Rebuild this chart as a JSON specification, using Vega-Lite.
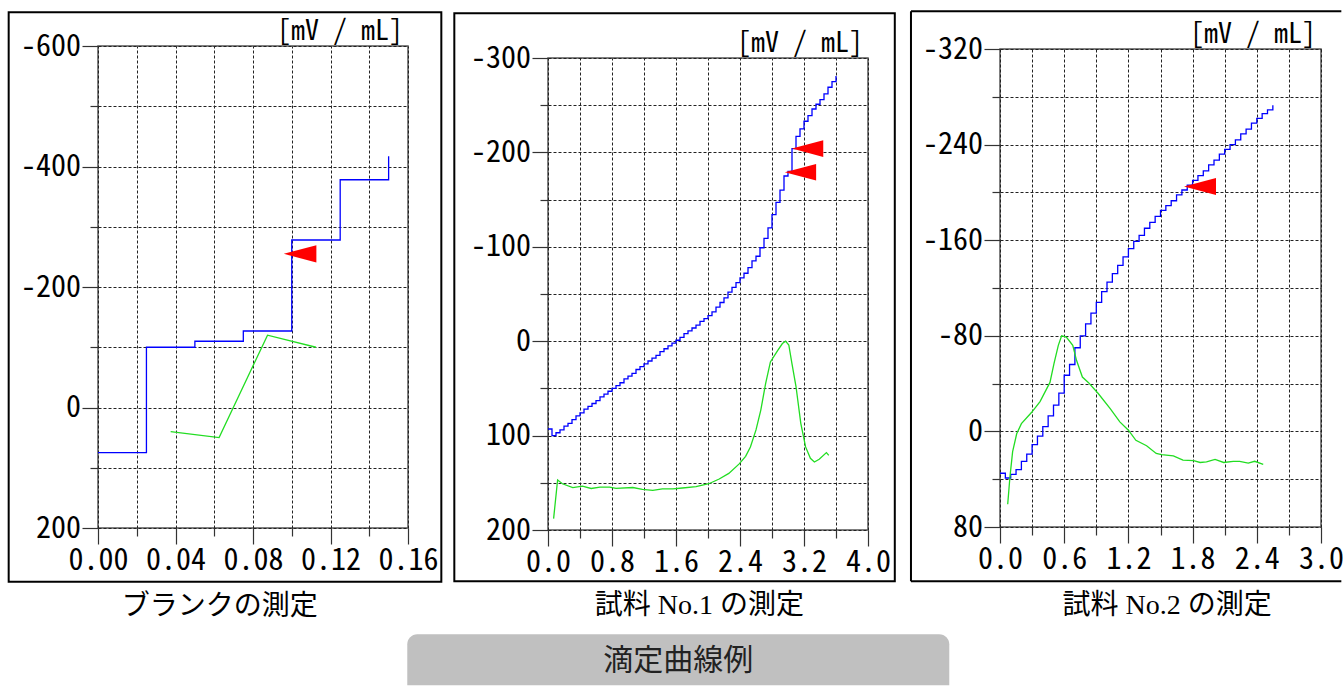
{
  "$schema": "https://vega.github.io/schema/vega-lite/v6.json",
  "background": "white",
  "padding": {"left": 6, "top": 9, "right": 0, "bottom": 0},
  "autosize": {"type": "pad"},
  "spacing": 0,
  "bounds": "flush",
  "config": {
    "view": {"stroke": "#555", "strokeWidth": 1.5},
    "axis": {
      "labelFont": "Noto Sans Mono CJK JP, DejaVu Sans Mono, monospace",
      "labelFontSize": 30,
      "labelColor": "#000",
      "tickColor": "#333",
      "tickWidth": 1.2,
      "tickSize": 16,
      "gridColor": "#222",
      "gridDash": [3, 2],
      "gridWidth": 1,
      "grid": true,
      "domain": false,
      "labelPadding": 1.5,
      "labelFlush": false,
      "labelOverlap": false,
      "labelBound": false
    }
  },
  "hconcat": [
    {
      "width": 310,
      "height": 482,
      "encoding": {
        "x": {"field": "x", "type": "quantitative", "title": null,
          "scale": {"domain": [0, 0.16], "nice": false, "zero": false},
          "axis": {
            "values": [0, 0.02, 0.04, 0.06, 0.08, 0.1, 0.12, 0.14, 0.16],
            "labelExpr": "abs(round(datum.value*100)) % 4 == 0 ? format(datum.value, '.2f') : ''",
            "tickDash": {"condition": {"test": "abs(round(datum.value*100)) % 4 != 0", "value": [8, 40]}, "value": [16, 0]}
          }
        },
        "y": {"field": "y", "type": "quantitative", "title": null,
          "scale": {"domain": [-600, 200], "nice": false, "zero": false, "reverse": true},
          "axis": {
            "values": [-600, -500, -400, -300, -200, -100, 0, 100, 200],
            "labelExpr": "abs(datum.value) % 200 == 0 ? (datum.value < 0 ? '-' : '') + abs(datum.value) : ''",
            "tickDash": {"condition": {"test": "abs(datum.value) % 200 != 0", "value": [8, 40]}, "value": [16, 0]}
          }
        }
      },
      "layer": [
        {
          "data": {"values": [{"x": -0.0461, "x2": 0.1772, "y": -655.9, "y2": 289.1}]},
          "mark": {"type": "rect", "filled": false, "color": "#000", "strokeWidth": 2},
          "encoding": {"x2": {"field": "x2"}, "y2": {"field": "y2"}}
        },
        {
          "data": {"values": [
            {"x": 0, "y": 75}, {"x": 0.025, "y": -100}, {"x": 0.05, "y": -110}, {"x": 0.075, "y": -127},
            {"x": 0.1, "y": -278}, {"x": 0.125, "y": -378}, {"x": 0.15, "y": -417}
          ]},
          "mark": {"type": "line", "interpolate": "step-after", "color": "#0000ff", "strokeWidth": 1.3}
        },
        {
          "data": {"values": [
            {"x": 0.0375, "y": 40}, {"x": 0.0625, "y": 50}, {"x": 0.0875, "y": -120}, {"x": 0.1125, "y": -100}
          ]},
          "mark": {"type": "line", "color": "#22dd22", "strokeWidth": 1.3}
        },
        {
          "data": {"values": [{"x": 0.1043, "y": -255}]},
          "mark": {"type": "point", "shape": "M-1,0L1,-0.53L1,0.53Z", "size": 1060, "filled": true, "color": "#ff0000", "opacity": 1, "strokeWidth": 0}
        },
        {
          "data": {"values": [{"x": 0.16, "y": -600, "label": "[mV / mL]"}]},
          "mark": {"type": "text", "align": "right", "baseline": "bottom", "dx": -5, "dy": -0.5, "font": "Noto Sans Mono CJK JP, DejaVu Sans Mono, monospace", "fontSize": 28, "color": "#000"},
          "encoding": {"text": {"field": "label"}}
        },
        {
          "data": {"values": [{"x": 0.0628, "y": 330.6, "label": "ブランクの測定"}]},
          "mark": {"type": "text", "align": "center", "baseline": "middle", "font": "Liberation Serif, Noto Sans CJK JP", "fontSize": 28, "color": "#000"},
          "encoding": {"text": {"field": "label"}}
        }
      ]
    },
    {
      "width": 140, "height": 1,
      "view": {"stroke": null},
      "data": {"values": []},
      "mark": "rule",
      "encoding": {}
    },
    {
      "spacing": 0,
      "bounds": "flush",
      "vconcat": [
        {
          "width": 320, "height": 12,
          "view": {"stroke": null},
          "data": {"values": []},
          "mark": "rule",
          "encoding": {}
        },
        {
          "width": 320,
          "height": 472,
          "encoding": {
            "x": {"field": "x", "type": "quantitative", "title": null,
              "scale": {"domain": [0, 4], "nice": false, "zero": false},
              "axis": {
                "values": [0, 0.4, 0.8, 1.2, 1.6, 2, 2.4, 2.8, 3.2, 3.6, 4],
                "labelExpr": "abs(round(datum.value*10)) % 8 == 0 ? format(datum.value, '.1f') : ''",
                "tickDash": {"condition": {"test": "abs(round(datum.value*10)) % 8 != 0", "value": [8, 40]}, "value": [16, 0]}
              }
            },
            "y": {"field": "y", "type": "quantitative", "title": null,
              "scale": {"domain": [-300, 200], "nice": false, "zero": false, "reverse": true},
              "axis": {
                "values": [-300, -250, -200, -150, -100, -50, 0, 50, 100, 150, 200],
                "labelExpr": "abs(datum.value) % 100 == 0 ? (datum.value < 0 ? '-' : '') + abs(datum.value) : ''",
                "tickDash": {"condition": {"test": "abs(datum.value) % 100 != 0", "value": [8, 40]}, "value": [16, 0]}
              }
            }
          },
          "layer": [
            {
              "data": {"values": [{"x": -1.171, "x2": 4.335, "y": -347.4, "y2": 254.3}]},
              "mark": {"type": "rect", "filled": false, "color": "#000", "strokeWidth": 2},
              "encoding": {"x2": {"field": "x2"}, "y2": {"field": "y2"}}
            },
            {
              "data": {"values": [{"x": -1.759, "x2": 5.016, "y": 310.5, "y2": 364.5}]},
              "mark": {"type": "rect", "color": "#c0c0c0", "cornerRadiusTopLeft": 10, "cornerRadiusTopRight": 10},
              "encoding": {"x2": {"field": "x2"}, "y2": {"field": "y2"}}
            },
            {
              "data": {"values": [
                {"x": 0, "y": 93}, {"x": 0.05, "y": 100}, {"x": 0.1, "y": 97}, {"x": 0.15, "y": 94}, {"x": 0.2, "y": 90},
                {"x": 0.25, "y": 87}, {"x": 0.3, "y": 83}, {"x": 0.35, "y": 79}, {"x": 0.4, "y": 76}, {"x": 0.45, "y": 72},
                {"x": 0.5, "y": 69}, {"x": 0.55, "y": 66}, {"x": 0.6, "y": 63}, {"x": 0.65, "y": 59}, {"x": 0.7, "y": 56},
                {"x": 0.75, "y": 53}, {"x": 0.8, "y": 50}, {"x": 0.85, "y": 47}, {"x": 0.9, "y": 44}, {"x": 0.95, "y": 40},
                {"x": 1.0, "y": 37}, {"x": 1.05, "y": 34}, {"x": 1.1, "y": 30}, {"x": 1.15, "y": 27}, {"x": 1.2, "y": 24},
                {"x": 1.25, "y": 21}, {"x": 1.3, "y": 18}, {"x": 1.35, "y": 15}, {"x": 1.4, "y": 11}, {"x": 1.45, "y": 8},
                {"x": 1.5, "y": 5}, {"x": 1.55, "y": 2}, {"x": 1.6, "y": -1}, {"x": 1.65, "y": -4}, {"x": 1.7, "y": -8},
                {"x": 1.75, "y": -11}, {"x": 1.8, "y": -14}, {"x": 1.85, "y": -17}, {"x": 1.9, "y": -21}, {"x": 1.95, "y": -24},
                {"x": 2.0, "y": -27}, {"x": 2.05, "y": -31}, {"x": 2.1, "y": -36}, {"x": 2.15, "y": -41}, {"x": 2.2, "y": -46},
                {"x": 2.25, "y": -52}, {"x": 2.3, "y": -57}, {"x": 2.35, "y": -62}, {"x": 2.4, "y": -67}, {"x": 2.45, "y": -72},
                {"x": 2.5, "y": -78}, {"x": 2.55, "y": -85}, {"x": 2.6, "y": -90}, {"x": 2.65, "y": -99}, {"x": 2.7, "y": -109},
                {"x": 2.75, "y": -120}, {"x": 2.8, "y": -134}, {"x": 2.85, "y": -147}, {"x": 2.9, "y": -160}, {"x": 2.95, "y": -175},
                {"x": 3.0, "y": -180}, {"x": 3.05, "y": -204}, {"x": 3.1, "y": -217}, {"x": 3.15, "y": -225}, {"x": 3.2, "y": -233},
                {"x": 3.25, "y": -239}, {"x": 3.3, "y": -246}, {"x": 3.35, "y": -251}, {"x": 3.4, "y": -256}, {"x": 3.45, "y": -262},
                {"x": 3.5, "y": -269}, {"x": 3.55, "y": -275}, {"x": 3.6, "y": -281}
              ]},
              "mark": {"type": "line", "interpolate": "step-after", "color": "#0000ff", "strokeWidth": 1.3}
            },
            {
              "data": {"values": [
                {"x": 0.07, "y": 188}, {"x": 0.12, "y": 147}, {"x": 0.18, "y": 151}, {"x": 0.31, "y": 155}, {"x": 0.43, "y": 153.5},
                {"x": 0.54, "y": 156}, {"x": 0.65, "y": 154.5}, {"x": 0.77, "y": 154.5}, {"x": 0.85, "y": 156}, {"x": 1.06, "y": 155},
                {"x": 1.18, "y": 157}, {"x": 1.31, "y": 158}, {"x": 1.43, "y": 156.5}, {"x": 1.56, "y": 156.5}, {"x": 1.68, "y": 155.5},
                {"x": 1.85, "y": 154}, {"x": 2.01, "y": 151}, {"x": 2.14, "y": 146}, {"x": 2.26, "y": 140}, {"x": 2.39, "y": 130},
                {"x": 2.47, "y": 122}, {"x": 2.53, "y": 112}, {"x": 2.6, "y": 94}, {"x": 2.66, "y": 73}, {"x": 2.72, "y": 45},
                {"x": 2.78, "y": 22}, {"x": 2.87, "y": 10}, {"x": 2.93, "y": 2.5}, {"x": 2.97, "y": 0}, {"x": 3.01, "y": 4},
                {"x": 3.05, "y": 24}, {"x": 3.1, "y": 48}, {"x": 3.16, "y": 87}, {"x": 3.22, "y": 112}, {"x": 3.28, "y": 124},
                {"x": 3.33, "y": 128}, {"x": 3.39, "y": 125}, {"x": 3.48, "y": 118}, {"x": 3.51, "y": 121}
              ]},
              "mark": {"type": "line", "color": "#22dd22", "strokeWidth": 1.3}
            },
            {
              "data": {"values": [{"x": 3.245, "y": -204}, {"x": 3.156, "y": -179}]},
              "mark": {"type": "point", "shape": "M-1,0L1,-0.53L1,0.53Z", "size": 980, "filled": true, "color": "#ff0000", "opacity": 1, "strokeWidth": 0}
            },
            {
              "data": {"values": [{"x": 4, "y": -300, "label": "[mV / mL]"}]},
              "mark": {"type": "text", "align": "right", "baseline": "bottom", "dx": -5, "dy": -0.5, "font": "Noto Sans Mono CJK JP, DejaVu Sans Mono, monospace", "fontSize": 28, "color": "#000"},
              "encoding": {"text": {"field": "label"}}
            },
            {
              "data": {"values": [{"x": 1.891, "y": 280.8, "label": "試料 No.1 の測定"}]},
              "mark": {"type": "text", "align": "center", "baseline": "middle", "font": "Liberation Serif, Noto Sans CJK JP", "fontSize": 28, "color": "#000"},
              "encoding": {"text": {"field": "label"}}
            },
            {
              "data": {"values": [{"x": 1.629, "y": 339.1, "label": "滴定曲線例"}]},
              "mark": {"type": "text", "align": "center", "baseline": "middle", "font": "Noto Sans CJK JP", "fontSize": 30, "color": "#222"},
              "encoding": {"text": {"field": "label"}}
            }
          ]
        }
      ]
    },
    {
      "width": 452, "height": 1,
      "view": {"stroke": null},
      "data": {"values": []},
      "mark": "rule",
      "encoding": {}
    },
    {
      "spacing": 0,
      "bounds": "flush",
      "vconcat": [
        {
          "width": 321, "height": 3,
          "view": {"stroke": null},
          "data": {"values": []},
          "mark": "rule",
          "encoding": {}
        },
        {
          "width": 321,
          "height": 478,
          "encoding": {
            "x": {"field": "x", "type": "quantitative", "title": null,
              "scale": {"domain": [0, 3], "nice": false, "zero": false},
              "axis": {
                "values": [0, 0.3, 0.6, 0.9, 1.2, 1.5, 1.8, 2.1, 2.4, 2.7, 3],
                "labelExpr": "abs(round(datum.value*10)) % 6 == 0 ? format(datum.value, '.1f') : ''",
                "tickDash": {"condition": {"test": "abs(round(datum.value*10)) % 6 != 0", "value": [8, 40]}, "value": [16, 0]}
              }
            },
            "y": {"field": "y", "type": "quantitative", "title": null,
              "scale": {"domain": [-320, 80], "nice": false, "zero": false, "reverse": true},
              "axis": {
                "values": [-320, -280, -240, -200, -160, -120, -80, -40, 0, 40, 80],
                "labelExpr": "abs(datum.value) % 80 == 0 ? (datum.value < 0 ? '-' : '') + abs(datum.value) : ''",
                "tickDash": {"condition": {"test": "abs(datum.value) % 80 != 0", "value": [8, 40]}, "value": [16, 0]}
              }
            }
          },
          "layer": [
            {
              "data": {"values": [
                {"x": -0.832, "x2": 3.19, "y": -351.5, "y2": -351.5},
                {"x": -0.832, "x2": -0.832, "y": -351.5, "y2": 125.4},
                {"x": -0.832, "x2": 3.19, "y": 125.4, "y2": 125.4}
              ]},
              "mark": {"type": "rule", "color": "#000", "strokeWidth": 2},
              "encoding": {"x2": {"field": "x2"}, "y2": {"field": "y2"}}
            },
            {
              "data": {"values": [
                {"x": 0, "y": 35}, {"x": 0.05, "y": 39}, {"x": 0.1, "y": 36}, {"x": 0.15, "y": 32}, {"x": 0.2, "y": 25},
                {"x": 0.25, "y": 19}, {"x": 0.3, "y": 11}, {"x": 0.35, "y": 4}, {"x": 0.4, "y": -4}, {"x": 0.45, "y": -13},
                {"x": 0.5, "y": -22}, {"x": 0.55, "y": -32}, {"x": 0.6, "y": -47}, {"x": 0.65, "y": -56}, {"x": 0.7, "y": -70},
                {"x": 0.75, "y": -80}, {"x": 0.8, "y": -90}, {"x": 0.85, "y": -99}, {"x": 0.9, "y": -108}, {"x": 0.95, "y": -117},
                {"x": 1.0, "y": -125}, {"x": 1.05, "y": -132}, {"x": 1.1, "y": -139}, {"x": 1.15, "y": -146}, {"x": 1.2, "y": -153},
                {"x": 1.25, "y": -159}, {"x": 1.3, "y": -164}, {"x": 1.35, "y": -170}, {"x": 1.4, "y": -175}, {"x": 1.45, "y": -180},
                {"x": 1.5, "y": -185}, {"x": 1.55, "y": -189}, {"x": 1.6, "y": -193}, {"x": 1.65, "y": -198}, {"x": 1.7, "y": -202},
                {"x": 1.75, "y": -206}, {"x": 1.8, "y": -210}, {"x": 1.85, "y": -214}, {"x": 1.9, "y": -218}, {"x": 1.95, "y": -223},
                {"x": 2.0, "y": -227}, {"x": 2.05, "y": -232}, {"x": 2.1, "y": -236}, {"x": 2.15, "y": -240}, {"x": 2.2, "y": -244},
                {"x": 2.25, "y": -249}, {"x": 2.3, "y": -253}, {"x": 2.35, "y": -258}, {"x": 2.4, "y": -262}, {"x": 2.45, "y": -266},
                {"x": 2.5, "y": -269}, {"x": 2.55, "y": -273}
              ]},
              "mark": {"type": "line", "interpolate": "step-after", "color": "#0000ff", "strokeWidth": 1.3}
            },
            {
              "data": {"values": [
                {"x": 0.072, "y": 61}, {"x": 0.093, "y": 38}, {"x": 0.118, "y": 17}, {"x": 0.156, "y": 2}, {"x": 0.2, "y": -6.5},
                {"x": 0.296, "y": -16}, {"x": 0.374, "y": -25}, {"x": 0.467, "y": -41}, {"x": 0.505, "y": -57}, {"x": 0.545, "y": -72},
                {"x": 0.576, "y": -80}, {"x": 0.62, "y": -79}, {"x": 0.68, "y": -72}, {"x": 0.715, "y": -59.5}, {"x": 0.77, "y": -45.5},
                {"x": 0.825, "y": -41}, {"x": 0.92, "y": -31.5}, {"x": 1.03, "y": -19}, {"x": 1.12, "y": -8}, {"x": 1.2, "y": -1},
                {"x": 1.27, "y": 7.5}, {"x": 1.37, "y": 12}, {"x": 1.46, "y": 18.5}, {"x": 1.51, "y": 19.5}, {"x": 1.62, "y": 20.5},
                {"x": 1.71, "y": 24}, {"x": 1.81, "y": 24.5}, {"x": 1.87, "y": 26}, {"x": 1.93, "y": 25.5}, {"x": 2.01, "y": 23.5},
                {"x": 2.09, "y": 26}, {"x": 2.18, "y": 25}, {"x": 2.24, "y": 25}, {"x": 2.32, "y": 26.5}, {"x": 2.38, "y": 25},
                {"x": 2.46, "y": 27.5}
              ]},
              "mark": {"type": "line", "color": "#22dd22", "strokeWidth": 1.3}
            },
            {
              "data": {"values": [{"x": 1.869, "y": -205}]},
              "mark": {"type": "point", "shape": "M-1,0L1,-0.53L1,0.53Z", "size": 1024, "filled": true, "color": "#ff0000", "opacity": 1, "strokeWidth": 0}
            },
            {
              "data": {"values": [{"x": 3, "y": -320, "label": "[mV / mL]"}]},
              "mark": {"type": "text", "align": "right", "baseline": "bottom", "dx": -5, "dy": -0.5, "font": "Noto Sans Mono CJK JP, DejaVu Sans Mono, monospace", "fontSize": 28, "color": "#000"},
              "encoding": {"text": {"field": "label"}}
            },
            {
              "data": {"values": [{"x": 1.561, "y": 146.4, "label": "試料 No.2 の測定"}]},
              "mark": {"type": "text", "align": "center", "baseline": "middle", "font": "Liberation Serif, Noto Sans CJK JP", "fontSize": 28, "color": "#000"},
              "encoding": {"text": {"field": "label"}}
            }
          ]
        }
      ]
    }
  ]
}
